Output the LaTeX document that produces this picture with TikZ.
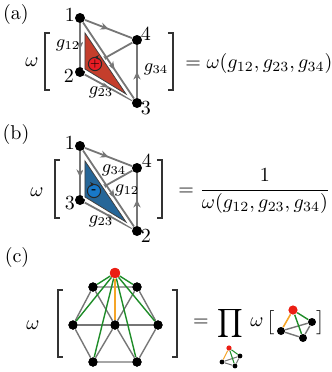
\documentclass[tikz,border=0pt]{standalone}
\usepackage{amsmath}
\usetikzlibrary{arrows.meta,decorations.markings}
\definecolor{trired}{RGB}{196,62,44}
\definecolor{circred}{RGB}{232,28,36}
\definecolor{triblue}{RGB}{38,102,152}
\definecolor{circblue}{RGB}{24,120,200}
\definecolor{egreen}{RGB}{30,140,40}
\definecolor{eorange}{RGB}{245,165,40}
\definecolor{nred}{RGB}{235,30,20}
\definecolor{egray}{RGB}{118,118,118}
\begin{document}
\begin{tikzpicture}[x=0.5pt,y=-0.5pt,
  edge/.style={draw=egray, line width=0.9pt},
  cedge/.style={draw=egray, line width=0.7pt},
  gedge/.style={draw=egreen, line width=0.7pt},
  oedge/.style={draw=eorange, line width=0.8pt},
  midarrow/.style={postaction={decorate,decoration={markings,mark=at position #1 with {\arrow[egray]{Stealth[length=4pt,width=3.6pt]}}}}},
  dot/.style={circle,fill=black,inner sep=0pt,minimum size=5pt},
  cdot/.style={circle,fill=black,inner sep=0pt,minimum size=4.6pt},
  rdot/.style={circle,fill=nred,inner sep=0pt,minimum size=5.2pt},
  sdot/.style={circle,fill=black,inner sep=0pt,minimum size=4pt},
  srdot/.style={circle,fill=nred,inner sep=0pt,minimum size=4.6pt},
  tdot/.style={circle,fill=black,inner sep=0pt,minimum size=2.4pt},
  trdot/.style={circle,fill=nred,inner sep=0pt,minimum size=2.6pt},
  bracket/.style={draw=black!80, line width=0.8pt},
  lab/.style={inner sep=0pt},
  glab/.style={inner sep=0pt, font=\small},
  ocircle/.style={circle, draw=black!85, line width=0.5pt, minimum size=6.6pt, inner sep=0pt, font=\tiny},
  triwhite/.style={draw=white, line width=2pt, line join=miter},
  triline/.style={draw=black!75, line width=0.4pt, line join=miter}
]
\useasboundingbox (0,0) rectangle (332,372);

% ---------------- (a) ----------------
\node[lab] (la) at (16,14) {(a)};
\node[lab] (wa) at (32,62) {$\omega$};
\draw[bracket] (50,33) -- (45,33) -- (45,90) -- (50,90);
\draw[bracket] (168,33) -- (173,33) -- (173,90) -- (168,90);

\node[dot] (a1) at (80,18) {};
\node[dot] (a2) at (80,72) {};
\node[dot] (a3) at (137,103) {};
\node[dot] (a4) at (137,40) {};
\node[lab] (na1) at (70,15) {1};
\node[lab] (na2) at (69,76) {2};
\node[lab] (na3) at (146,108) {3};
\node[lab] (na4) at (146,34) {4};

\draw[edge,midarrow=0.5] (a2) -- (a4);
\draw[edge,midarrow=0.62] (a1) -- (a3);
\draw[edge,midarrow=0.6] (a1) -- (a2);
\draw[edge,midarrow=0.5] (a1) -- (a4);
\draw[edge,midarrow=0.5] (a2) -- (a3);
\draw[edge,midarrow=0.5] (a3) -- (a4);

\coordinate (ta1) at (85,33);
\coordinate (ta2) at (85,69);
\coordinate (ta3) at (126,94);
\draw[triwhite] (ta1) -- (ta2) -- (ta3) -- cycle;
\filldraw[triline, fill=trired] (ta1) -- (ta2) -- (ta3) -- cycle;

\node[ocircle, fill=circred] (ca) at (95,64) {$\mathbf{+}$};
\coordinate (caA) at (97.5,57.4);
\coordinate (caB) at (94.5,57.4);
\draw[black!85, line width=0.4pt, -{Stealth[length=2.2pt,width=2.4pt]}] (caA) -- (caB);

\node[glab] (g12a) at (68,45) {$g_{12}$};
\node[glab] (g34a) at (156,69) {$g_{34}$};
\node[glab] (g23a) at (101,92) {$g_{23}$};

\node[lab, anchor=base west] (eqa) at (185,68) {$=\omega(g_{12},g_{23},g_{34})$};

% ---------------- (b) ----------------
\node[lab] (lb) at (16,134) {(b)};
\node[lab] (wb) at (37,192) {$\omega$};
\draw[bracket] (60,160) -- (55,160) -- (55,218) -- (60,218);
\draw[bracket] (157,160) -- (162,160) -- (162,218) -- (157,218);

\node[dot] (b1) at (80,146) {};
\node[dot] (b3) at (80,200) {};
\node[dot] (b2) at (137,231) {};
\node[dot] (b4) at (137,168) {};
\node[lab] (nb1) at (70,143) {1};
\node[lab] (nb3) at (70,203) {3};
\node[lab] (nb2) at (146,236) {2};
\node[lab] (nb4) at (147,161) {4};

\draw[edge,midarrow=0.5] (b3) -- (b4);
\draw[edge,midarrow=0.62] (b1) -- (b2);
\draw[edge,midarrow=0.6] (b1) -- (b3);
\draw[edge,midarrow=0.5] (b1) -- (b4);
\draw[edge,midarrow=0.55] (b2) -- (b3);
\draw[edge,midarrow=0.5] (b2) -- (b4);

\coordinate (tb1) at (85,161);
\coordinate (tb3) at (85,197);
\coordinate (tb2) at (126,222);
\draw[triwhite] (tb1) -- (tb3) -- (tb2) -- cycle;
\filldraw[triline, fill=triblue] (tb1) -- (tb3) -- (tb2) -- cycle;

\node[ocircle, fill=circblue] (cb) at (94,191) {\textbf{-}};
\coordinate (cbA) at (91.5,184.4);
\coordinate (cbB) at (94.5,184.4);
\draw[black!85, line width=0.4pt, -{Stealth[length=2.2pt,width=2.4pt]}] (cbA) -- (cbB);

\node[glab] (g34b) at (114,170) {$g_{34}$};
\node[glab] (g12b) at (127,190) {$g_{12}$};
\node[glab] (g23b) at (101,221) {$g_{23}$};

\node[lab, anchor=base west] (eqb) at (178,195) {$=\dfrac{1}{\omega(g_{12},g_{23},g_{34})}$};

% ---------------- (c) ----------------
\node[lab] (lc) at (17,257) {(c)};
\node[lab] (wc) at (33,325) {$\omega$};
\draw[bracket] (63,290) -- (58,290) -- (58,357) -- (63,357);
\draw[bracket] (172,290) -- (177,290) -- (177,357) -- (172,357);

\node[cdot] (hTL) at (93,287) {};
\node[cdot] (hTR) at (137,287) {};
\node[cdot] (hL) at (73,325) {};
\node[cdot] (hC) at (115,325) {};
\node[cdot] (hR) at (158,325) {};
\node[cdot] (hBL) at (93,362) {};
\node[cdot] (hBR) at (137,362) {};
\node[rdot] (hP) at (115,273) {};

\draw[cedge] (hTL) -- (hTR) -- (hR) -- (hBR) -- (hBL) -- (hL) -- (hTL);
\foreach \v in {hTL,hTR,hL,hR,hBL,hBR} \draw[cedge] (hC) -- (\v);
\foreach \v in {hTL,hTR,hL,hR,hBL,hBR} \draw[gedge] (hP) -- (\v);
\draw[oedge] (hP) -- (hC);
\foreach \v in {hTL,hTR,hL,hC,hR,hBL,hBR} \node[cdot] at (\v) {};
\node[rdot] at (hP) {};

\node[lab] (eqc) at (201,323) {$=$};
\node[lab] (prodc) at (230,323) {$\displaystyle\prod$};
\node[lab] (wc2) at (257,322) {$\omega$};
\node[lab] (lbr) at (271,323) {$\big[$};
\node[lab] (rbr) at (321,323) {$\big]$};

% small tetrahedron in brackets
\node[srdot] (sP) at (293,310) {};
\node[sdot] (sA) at (281,331) {};
\node[sdot] (sB) at (303,338) {};
\node[sdot] (sD) at (312,322) {};
\draw[cedge] (sA) -- (sB);
\draw[cedge] (sA) -- (sD);
\draw[cedge] (sB) -- (sD);
\draw[gedge] (sP) -- (sB);
\draw[gedge] (sP) -- (sD);
\draw[oedge] (sP) -- (sA);

% tiny tetrahedron under product
\node[trdot] (tP) at (229,348) {};
\node[tdot] (tA) at (222,362) {};
\node[tdot] (tB) at (235,366) {};
\node[tdot] (tD) at (240,356) {};
\draw[egray, line width=0.5pt] (tA) -- (tB);
\draw[egray, line width=0.5pt] (tA) -- (tD);
\draw[egray, line width=0.5pt] (tB) -- (tD);
\draw[egreen, line width=0.5pt] (tP) -- (tB);
\draw[egreen, line width=0.5pt] (tP) -- (tD);
\draw[eorange, line width=0.5pt] (tP) -- (tA);
\end{tikzpicture}
\end{document}
